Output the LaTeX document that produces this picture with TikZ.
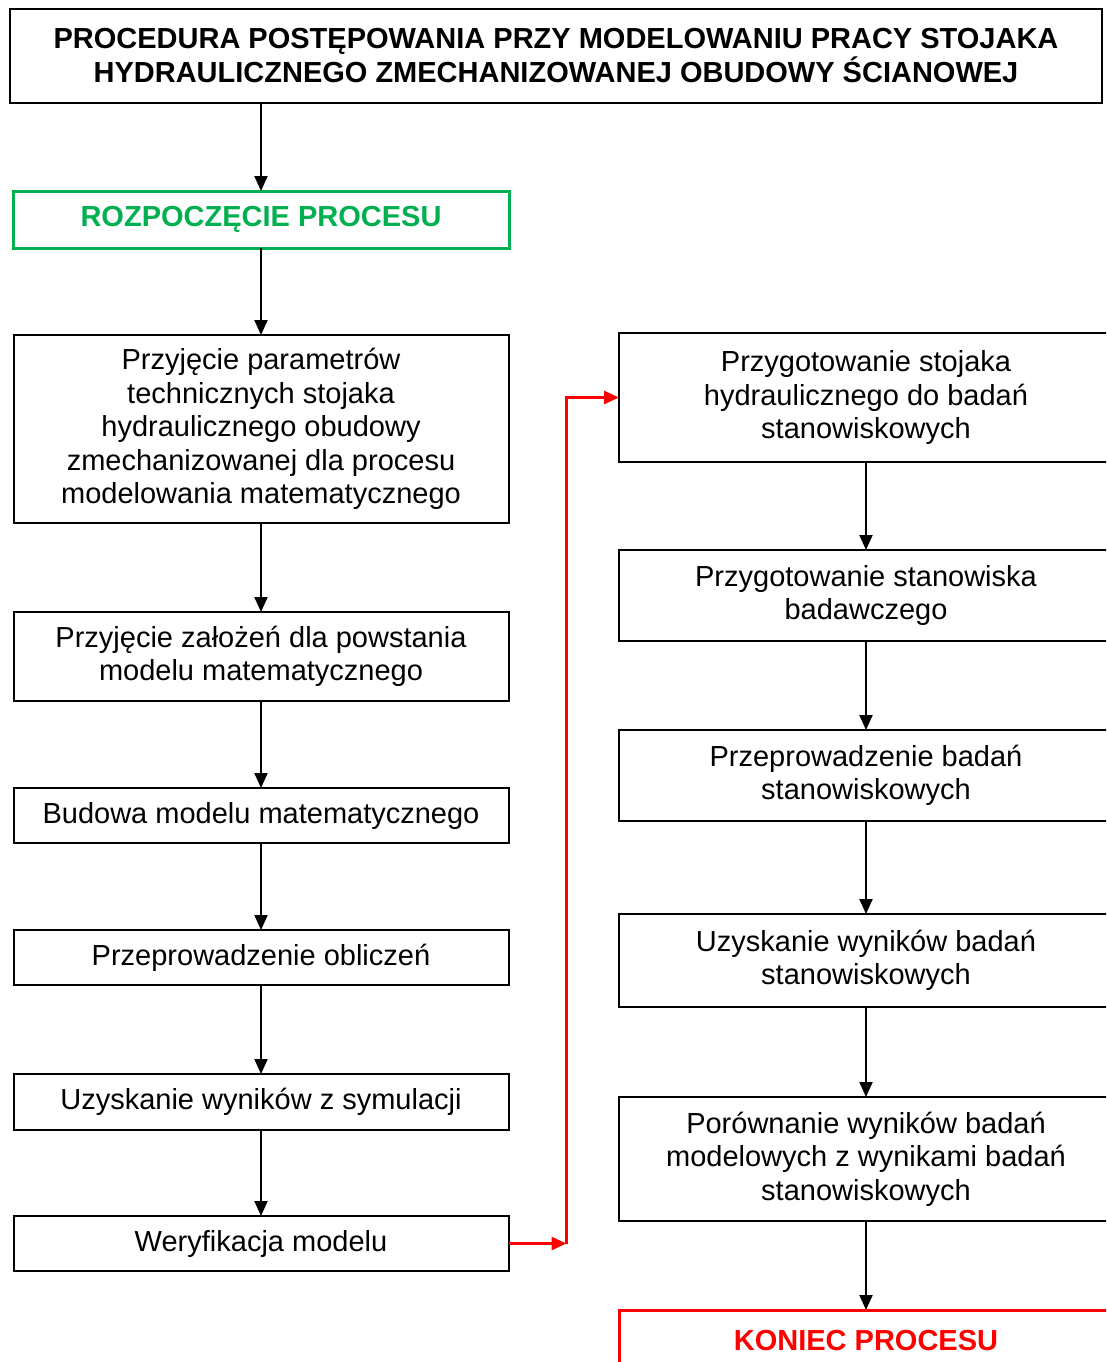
\documentclass[tikz,border=0pt]{standalone}
\usepackage{fontspec}
\setmainfont{Liberation Sans}
\usepackage{tikz}
\usetikzlibrary{arrows.meta, positioning}
\definecolor{startgreen}{RGB}{0,176,80}
\definecolor{endred}{RGB}{255,0,0}

\begin{document}
\begin{tikzpicture}[
    x=1pt, y=-1pt,
    node distance=87pt,
    every node/.style={font=\fontsize{29}{33.5}\selectfont},
    box/.style={rectangle, draw, line width=2pt, align=center, inner sep=0pt, outer sep=0pt,
                minimum width=495pt},
    bold/.style={font=\bfseries\fontsize{29}{34}\selectfont},
    arrow/.style={line width=2pt, -{Triangle[length=15pt,width=13pt]}},
    redarrow/.style={arrow, color=endred, line width=2.8pt}
  ]
  \useasboundingbox (0,0) rectangle (1106,1362);
  \clip (0,0) rectangle (1106,1362);

  % title
  \node[box, bold, minimum width=1092pt, minimum height=94pt] (title) at (556,56)
    {PROCEDURA POSTĘPOWANIA PRZY MODELOWANIU PRACY STOJAKA\\HYDRAULICZNEGO ZMECHANIZOWANEJ OBUDOWY ŚCIANOWEJ};

  % model column
  \node[box, bold, draw=startgreen, text=startgreen, line width=3pt,
        minimum width=496pt, minimum height=57pt] (start) at (261,219.5) {ROZPOCZĘCIE PROCESU};
  \node[box, minimum height=188pt, below=of start] (params)
    {Przyjęcie parametrów\\technicznych stojaka\\hydraulicznego obudowy\\zmechanizowanej dla procesu\\modelowania matematycznego};
  \node[box, minimum height=89pt, below=89pt of params] (assum) {Przyjęcie założeń dla powstania\\modelu matematycznego};
  \node[box, minimum height=55pt, below=of assum] (build) {Budowa modelu matematycznego};
  \node[box, minimum height=55pt, below=of build] (calc) {Przeprowadzenie obliczeń};
  \node[box, minimum height=56pt, below=89pt of calc] (simres) {Uzyskanie wyników z symulacji};
  \node[box, minimum height=55pt, below=86pt of simres] (verif) {Weryfikacja modelu};

  % bench column
  \node[box, minimum width=494pt, minimum height=129pt, anchor=north west] (prepst) at (619,333)
    {Przygotowanie stojaka\\hydraulicznego do badań\\stanowiskowych};
  \node[box, minimum width=494pt, minimum height=91pt, below=88pt of prepst] (prepbench) {Przygotowanie stanowiska\\badawczego};
  \node[box, minimum width=494pt, minimum height=91pt, below=89pt of prepbench] (benchtest) {Przeprowadzenie badań\\stanowiskowych};
  \node[box, minimum width=494pt, minimum height=93pt, below=93pt of benchtest] (benchres) {Uzyskanie wyników badań\\stanowiskowych};
  \node[box, minimum width=494pt, minimum height=124pt, below=90pt of benchres] (compare)
    {Porównanie wyników badań\\modelowych z wynikami badań\\stanowiskowych};
  \node[box, bold, draw=endred, text=endred, line width=3pt, minimum width=494pt,
        minimum height=60pt, below=89pt of compare] (finish) {KONIEC PROCESU};

  \coordinate[right=58pt of verif.east] (kink);

  \draw[arrow] (title.south -| start) -- (start);
  \draw[arrow] (start) -- (params);
  \draw[arrow] (params) -- (assum);
  \draw[arrow] (assum) -- (build);
  \draw[arrow] (build) -- (calc);
  \draw[arrow] (calc) -- (simres);
  \draw[arrow] (simres) -- (verif);
  \draw[redarrow] (verif) -- (kink);
  \draw[redarrow] (kink) |- (prepst.west);
  \draw[arrow] (prepst) -- (prepbench);
  \draw[arrow] (prepbench) -- (benchtest);
  \draw[arrow] (benchtest) -- (benchres);
  \draw[arrow] (benchres) -- (compare);
  \draw[arrow] (compare) -- (finish);

\end{tikzpicture}
\end{document}
